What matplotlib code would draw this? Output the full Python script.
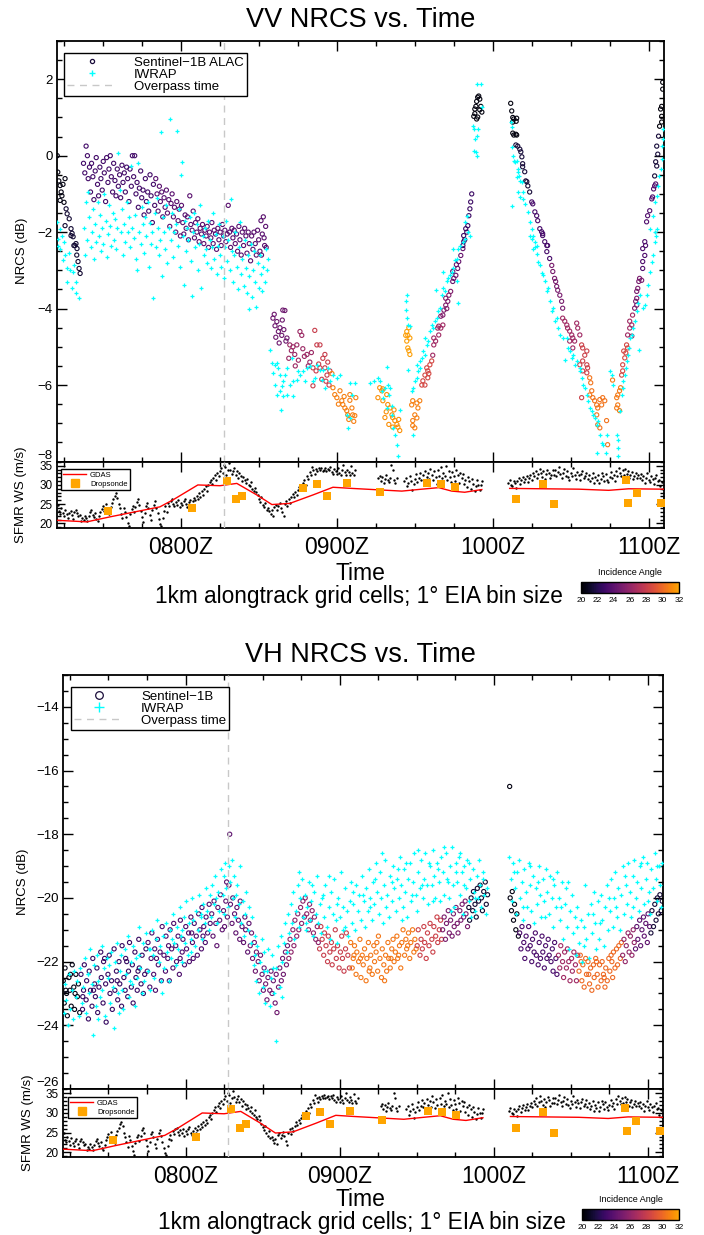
import numpy as np
import matplotlib
matplotlib.use('Agg')
import matplotlib.pyplot as plt
from matplotlib.colors import ListedColormap, Normalize
from matplotlib.lines import Line2D
from matplotlib.ticker import MultipleLocator
from matplotlib.cm import ScalarMappable

plt.rcParams['font.family'] = ['Liberation Sans', 'DejaVu Sans']

#%% Data (time in minutes after 0700Z)

hour_ticks = [60, 120, 180, 240]
hour_labels = ['0800Z', '0900Z', '1000Z', '1100Z']
overpass_t = 76.7

# SFMR surface wind speed (m/s)
sfmr_pts = [
    (12.5, 24.8), (13.0, 23.2), (13.5, 22.5), (14.0, 24.0), (14.5, 22.8), (15.0, 21.9), (15.5, 23.6), (16.0, 22.4),
    (16.5, 21.5), (17.0, 22.8), (17.5, 23.3), (18.0, 22.1), (18.5, 21.2), (19.0, 22.9), (19.5, 23.5), (20.0, 22.6),
    (20.5, 21.8), (21.0, 22.2), (21.5, 20.7), (22.0, 21.4), (22.5, 20.9), (23.0, 22.0), (23.5, 21.3), (24.0, 20.5),
    (24.5, 21.8), (25.0, 22.9), (25.5, 23.4), (26.0, 22.3), (26.5, 21.6), (27.0, 22.7), (27.5, 21.1), (28.0, 20.6),
    (28.5, 21.9), (29.0, 23.0), (29.5, 23.8), (30.0, 24.6), (30.5, 23.2), (31.0, 25.1), (31.5, 24.0), (32.0, 23.5),
    (32.5, 22.4), (33.0, 24.3), (33.5, 25.4), (34.0, 26.3), (34.5, 27.2), (35.0, 27.8), (35.5, 26.6), (36.0, 25.0),
    (36.5, 23.9), (37.0, 22.5), (37.5, 21.3), (38.0, 24.1), (38.5, 23.0), (39.0, 21.6), (39.5, 20.2), (40.0, 19.4),
    (40.5, 22.4), (41.0, 23.8), (41.5, 24.5), (42.0, 22.9), (42.5, 24.2), (43.0, 25.6), (43.5, 26.3), (44.0, 24.8),
    (44.5, 23.1), (45.0, 21.6), (45.5, 20.4), (46.0, 22.7), (46.5, 24.6), (47.0, 25.2), (47.5, 23.9), (48.0, 22.2),
    (48.5, 21.0), (49.0, 23.4), (49.5, 24.8), (50.0, 25.7), (50.5, 24.1), (51.0, 22.6), (51.5, 21.2), (52.0, 19.8),
    (52.5, 19.2), (53.0, 21.5), (53.5, 23.3), (54.0, 24.5), (54.5, 23.0), (55.0, 25.4), (55.5, 24.6), (56.0, 25.8),
    (56.5, 26.3), (57.0, 25.1), (57.5, 24.4), (58.0, 25.6), (58.5, 24.9), (59.0, 26.0), (59.5, 24.2), (60.0, 25.3),
    (60.5, 24.7), (61.0, 25.9), (61.5, 26.4), (62.0, 25.0), (62.5, 24.3), (63.0, 25.5), (63.5, 26.1), (64.0, 24.8),
    (64.5, 25.7), (65.0, 26.6), (65.5, 26.0), (66.0, 27.1), (66.5, 26.4), (67.0, 27.8), (67.5, 26.9), (68.0, 28.3),
    (68.5, 27.5), (69.0, 28.9), (69.5, 29.6), (70.0, 28.4), (70.5, 29.9), (71.0, 30.8), (71.5, 31.4), (72.0, 30.3),
    (72.5, 31.9), (73.0, 32.6), (73.5, 31.2), (74.0, 33.0), (74.5, 32.2), (75.0, 33.6), (75.5, 34.3), (76.0, 33.1),
    (76.5, 35.2), (77.0, 34.6), (77.5, 32.5), (78.0, 33.8), (78.5, 35.7), (79.0, 34.0), (79.5, 32.9), (80.0, 33.5),
    (80.5, 34.4), (81.0, 32.7), (81.5, 33.6), (82.0, 31.8), (82.5, 33.1), (83.0, 32.3), (83.5, 30.9), (84.0, 32.0),
    (84.5, 31.2), (85.0, 30.4), (85.5, 31.5), (86.0, 30.1), (86.5, 29.6), (87.0, 30.7), (87.5, 29.0), (88.0, 28.4),
    (88.5, 29.3), (89.0, 28.1), (89.5, 27.3), (90.0, 26.4), (90.5, 25.6), (91.0, 26.8), (91.5, 24.9), (92.0, 24.2),
    (92.5, 25.3), (93.0, 23.6), (93.5, 24.0), (94.0, 23.1), (94.5, 22.4), (95.0, 23.5), (95.5, 22.0), (96.0, 24.3),
    (96.5, 24.8), (97.0, 23.6), (97.5, 24.4), (98.0, 25.2), (98.5, 24.1), (99.0, 22.9), (99.5, 21.8), (100.0, 25.0),
    (100.5, 25.9), (101.0, 24.6), (101.5, 26.3), (102.0, 25.4), (102.5, 26.8), (103.0, 27.6), (103.5, 26.9), (104.0, 28.2),
    (104.5, 27.4), (105.0, 28.8), (105.5, 29.5), (106.0, 28.6), (106.5, 29.9), (107.0, 30.4), (107.5, 31.2), (108.0, 30.1),
    (108.5, 32.4), (109.0, 31.6), (109.5, 33.3), (110.0, 32.5), (110.5, 34.6), (111.0, 33.8), (111.5, 32.9), (112.0, 34.1),
    (112.5, 33.6), (113.0, 34.3), (113.5, 33.9), (114.0, 34.5), (114.5, 33.7), (115.0, 34.0), (115.5, 34.4), (116.0, 33.5),
    (116.5, 34.2), (117.0, 33.8), (117.5, 34.6), (118.0, 33.4), (118.5, 32.8), (119.0, 34.1), (119.5, 33.6), (120.0, 32.9),
    (120.5, 34.3), (121.0, 33.2), (121.5, 32.6), (122.0, 33.9), (122.5, 35.1), (123.0, 33.4), (123.5, 32.7), (124.0, 34.0),
    (124.5, 33.3), (125.0, 32.5), (125.5, 34.8), (126.0, 33.1), (126.5, 32.6), (127.0, 33.8),
    (136.0, 31.8), (136.5, 32.4), (137.0, 31.1), (137.5, 32.0), (138.0, 30.6), (138.5, 31.5), (139.0, 32.6), (139.5, 31.3),
    (140.0, 30.8), (140.5, 31.9), (141.0, 35.2), (141.5, 33.8), (142.0, 31.2), (142.5, 30.5), (143.0, 31.7),
    (146.0, 30.9), (146.5, 31.8), (147.0, 29.6), (147.5, 30.4), (148.0, 32.3), (148.5, 31.1), (149.0, 28.8), (149.5, 30.2),
    (150.0, 31.6), (150.5, 32.8), (151.0, 30.7), (151.5, 31.9), (152.0, 33.2), (152.5, 31.4), (153.0, 32.5), (153.5, 30.6),
    (154.0, 33.6), (154.5, 32.1), (155.0, 33.0), (155.5, 31.5), (156.0, 34.2), (156.5, 32.7), (157.0, 31.2), (157.5, 33.5),
    (158.0, 32.0), (158.5, 30.3), (159.0, 33.8), (159.5, 32.4), (160.0, 34.7), (160.5, 31.8), (161.0, 33.1), (161.5, 32.2),
    (162.0, 35.0), (162.5, 31.4), (163.0, 33.6), (163.5, 32.0), (164.0, 30.8), (164.5, 33.4), (165.0, 32.3), (165.5, 31.0),
    (166.0, 33.9), (166.5, 32.5), (167.0, 30.6), (167.5, 33.1), (168.0, 31.7), (168.5, 32.8), (169.0, 30.2), (169.5, 31.4),
    (170.0, 29.5), (170.5, 32.0), (171.0, 30.9), (171.5, 29.0), (172.0, 31.6), (172.5, 30.3), (173.0, 28.4), (173.5, 29.7),
    (174.0, 31.2), (174.5, 30.0), (175.0, 28.8), (175.5, 29.9), (176.0, 31.0),
    (186.0, 30.6), (186.5, 31.3), (187.0, 30.1), (187.5, 29.8), (188.0, 31.0), (188.5, 30.4), (189.0, 29.3), (189.5, 30.9),
    (190.0, 31.7), (190.5, 30.2), (191.0, 31.2), (191.5, 32.0), (192.0, 30.7), (192.5, 31.5), (193.0, 32.3), (193.5, 30.8),
    (194.0, 31.9), (194.5, 32.6), (195.0, 31.4), (195.5, 33.1), (196.0, 32.2), (196.5, 33.7), (197.0, 31.8), (197.5, 32.9),
    (198.0, 34.2), (198.5, 33.0), (199.0, 32.1), (199.5, 33.6), (200.0, 31.5), (200.5, 32.8), (201.0, 34.0), (201.5, 33.2),
    (202.0, 31.9), (202.5, 32.5), (203.0, 33.8), (203.5, 32.6), (204.0, 33.9), (204.5, 32.3), (205.0, 33.4), (205.5, 34.6),
    (206.0, 32.8), (206.5, 31.9), (207.0, 33.1), (207.5, 34.1), (208.0, 32.4), (208.5, 33.6), (209.0, 32.0), (209.5, 31.3),
    (210.0, 33.0), (210.5, 32.2), (211.0, 34.3), (211.5, 32.7), (212.0, 31.6), (212.5, 33.3), (213.0, 32.5), (213.5, 31.2),
    (214.0, 32.9), (214.5, 33.5), (215.0, 31.8), (215.5, 32.4), (216.0, 33.2), (216.5, 31.5), (217.0, 32.6), (217.5, 30.9),
    (218.0, 31.8), (218.5, 33.1), (219.0, 30.6), (219.5, 32.0), (220.0, 31.3), (220.5, 32.7), (221.0, 30.4), (221.5, 31.6),
    (222.0, 33.0), (222.5, 32.2), (223.0, 31.0), (223.5, 32.8), (224.0, 31.4), (224.5, 30.7), (225.0, 32.1), (225.5, 33.3),
    (226.0, 31.7), (226.5, 32.5), (227.0, 30.9), (227.5, 33.6), (228.0, 32.4), (228.5, 34.4), (229.0, 33.0), (229.5, 32.2),
    (230.0, 33.8), (230.5, 32.6), (231.0, 34.1), (231.5, 32.9), (232.0, 33.5), (232.5, 31.8), (233.0, 32.7), (233.5, 33.3),
    (234.0, 31.5), (234.5, 32.4), (235.0, 33.1), (235.5, 31.9), (236.0, 32.6), (236.5, 31.7), (237.0, 32.8), (237.5, 31.2),
    (238.0, 32.3), (238.5, 30.6), (239.0, 31.9), (239.5, 33.0), (240.0, 31.4), (240.5, 30.8), (241.0, 32.2), (241.5, 31.5),
    (242.0, 30.3), (242.5, 31.8), (243.0, 32.5), (243.5, 30.9), (244.0, 31.3), (244.5, 29.6), (245.0, 30.7), (245.5, 28.9),
]

# GDAS model wind (two legs)
gdas_t1 = [12.3, 23.8, 32.7, 51.9, 56.9, 66.5, 75.0, 81.5, 89.2, 95.0, 101.9, 110.8, 118.5, 125.8,
           145.0, 152.7, 159.2, 164.2, 169.2, 175.8]
gdas_ws1 = [20.8, 20.4, 21.7, 24.3, 26.1, 30.0, 29.8, 30.4, 27.4, 24.9, 25.2, 27.4, 29.4, 29.1,
            28.4, 28.9, 29.3, 28.4, 28.1, 28.8]
gdas_t2 = [186.5, 213.1, 224.6, 232.3, 245.8]
gdas_ws2 = [29.1, 28.9, 28.6, 29.0, 28.9]

# Dropsonde winds
drop_t = [31.9, 64.2, 77.7, 81.2, 83.5, 106.9, 112.3, 116.2, 123.9, 136.5, 154.6, 160.0, 165.4,
          188.8, 199.2, 203.5, 231.2, 232.0, 235.4, 244.6]
drop_ws = [23.2, 23.9, 31.1, 26.3, 27.1, 29.2, 30.3, 27.1, 30.5, 28.2, 30.5, 30.3, 29.5,
           26.3, 30.3, 25.0, 31.3, 25.3, 27.9, 25.3]

# ---- VV Sentinel-1B NRCS (t, dB), grouped by incidence angle ----
vv_a1 = [(12.4, 0.0), (12.6, -0.43), (13.0, -0.66), (13.5, -0.78), (13.9, -0.95), (13.5, -1.17), (14.2, -1.05),
         (15.0, -1.22), (15.4, -0.6), (14.6, -0.75)]
vv_a2 = [(15.8, -1.39), (16.2, -1.52), (17.0, -1.65), (15.4, -1.83), (17.7, -1.91), (17.7, -2.09), (18.8, -2.35),
         (18.1, -2.03), (18.5, -2.12), (19.6, -2.3), (20.0, -2.43), (19.2, -2.35), (20.4, -2.77), (20.8, -2.95),
         (21.2, -3.08), (19.9, -2.6)]
vv_b1 = [(22.5, -0.2), (23.0, -0.45), (23.5, 0.25), (24.0, 0.0), (24.3, -0.6), (24.8, -0.3), (25.2, -0.95),
         (25.6, -0.2), (26.1, -0.55), (26.5, -1.15), (27.0, -0.4), (27.4, -0.05), (27.9, -0.75), (28.3, -1.05),
         (28.8, -0.3), (29.2, -0.6), (29.7, -0.9), (30.1, -0.15), (30.5, -0.45), (31.0, -1.2), (31.4, -0.05),
         (31.9, -0.7), (32.3, -0.35), (32.8, 0.0), (33.2, -0.55), (33.7, -0.95), (34.1, -0.2), (34.6, -0.65),
         (35.0, -1.05), (35.5, -0.35), (35.9, -0.8), (36.4, -0.5), (36.8, -1.1), (37.3, -0.25), (37.7, -0.7),
         (38.2, -0.45), (38.6, -0.95), (39.1, -0.3), (39.5, -0.6), (40.0, -1.2), (40.4, -0.35), (40.9, -0.8),
         (41.3, 0.0), (41.8, -0.55), (42.2, 0.0), (42.7, -1.0), (43.1, -0.7), (43.6, -1.35), (44.0, -0.85),
         (44.5, -0.4), (44.9, -1.1), (45.4, -0.9), (45.8, -1.55), (46.3, -0.6), (46.7, -1.2), (47.2, -0.95),
         (47.6, -1.45), (48.1, -0.5), (48.5, -1.05), (49.0, -1.75), (49.4, -0.75), (49.9, -1.3)]
vv_b2 = [(50.3, -0.6), (50.8, -1.0), (51.2, -1.45), (51.7, -0.8), (52.1, -1.2), (52.6, -0.95), (53.0, -1.6),
         (53.5, -1.1), (53.9, -1.35), (54.4, -0.9), (54.8, -1.5), (55.3, -1.15), (55.7, -1.85), (56.2, -1.25),
         (56.6, -1.0), (57.1, -1.6), (57.5, -1.35), (58.0, -2.0), (58.4, -1.2), (58.9, -1.7), (59.3, -1.4),
         (59.8, -2.1), (60.2, -1.3), (60.7, -1.75), (61.1, -2.05), (61.6, -1.55), (62.0, -1.9), (62.5, -1.6),
         (62.9, -2.2), (63.4, -1.05), (63.8, -1.8), (64.3, -1.95), (64.7, -1.45), (65.2, -2.15), (65.6, -1.75),
         (66.1, -2.0), (66.5, -1.65), (67.0, -2.25), (67.4, -1.9), (67.9, -2.05), (68.3, -1.8), (68.8, -2.3),
         (69.2, -1.95), (69.7, -2.1), (70.1, -1.85), (70.6, -2.4), (71.0, -2.0), (71.5, -2.15), (71.9, -1.75),
         (72.4, -2.3), (72.8, -1.95), (73.3, -2.05), (73.7, -2.45), (74.2, -1.9), (74.6, -2.2), (75.1, -2.0),
         (75.5, -2.35), (76.0, -1.8), (76.4, -2.1), (76.9, -1.95), (77.3, -2.25), (77.8, -2.05), (78.2, -1.3),
         (78.7, -2.0), (79.1, -2.4), (79.6, -1.9), (80.0, -2.15), (80.5, -1.95), (80.9, -2.3), (81.4, -2.05),
         (81.8, -2.5), (82.3, -1.85), (82.7, -2.2), (83.2, -2.6), (83.6, -2.0), (84.1, -2.35), (84.5, -1.9),
         (85.0, -2.1), (85.4, -2.55), (85.9, -2.0), (86.3, -2.3), (86.8, -2.75), (87.2, -2.1), (87.7, -2.45),
         (88.1, -2.0), (88.6, -2.3), (89.0, -2.6), (89.5, -1.95), (89.9, -2.2), (90.4, -2.5), (90.8, -1.7),
         (91.3, -2.05), (91.7, -1.6), (92.2, -2.35), (92.6, -1.85), (91.0, -2.6), (92.0, -2.15), (92.8, -2.4)]
vv_c1 = [(95.4, -4.25), (96.2, -4.45), (96.9, -4.34), (97.5, -4.6), (98.1, -4.5), (98.8, -4.7), (99.2, -4.04),
         (99.6, -4.55), (100.0, -4.05), (100.4, -4.85), (96.5, -4.75), (97.8, -4.9), (99.0, -4.3), (100.8, -4.77),
         (95.9, -4.15)]
vv_c2 = [(101.9, -4.95), (102.5, -5.1), (103.1, -5.0), (103.8, -5.2), (104.6, -4.95), (105.2, -5.35), (105.8, -4.6),
         (106.5, -4.7), (106.9, -5.05), (107.5, -5.25), (108.5, -5.2), (109.0, -5.5), (109.6, -5.4), (110.2, -5.15),
         (101.5, -5.3), (104.0, -5.5)]
vv_c3 = [(110.8, -5.55), (111.5, -4.57), (112.3, -4.95), (112.0, -5.63), (113.0, -5.45), (113.5, -4.95),
         (113.5, -5.55), (114.6, -5.3), (115.4, -5.2), (115.4, -5.55), (116.2, -5.74), (116.5, -5.4), (117.3, -5.63),
         (110.8, -6.02), (114.2, -5.85), (115.8, -5.9), (117.0, -6.0)]
vv_c4 = [(118.1, -5.7), (118.5, -6.07), (119.2, -6.25), (120.0, -6.33), (121.2, -6.15), (121.9, -6.41),
         (122.3, -6.51), (123.1, -6.6), (123.8, -6.67), (124.2, -6.78), (125.0, -6.25), (125.0, -6.4), (125.8, -6.6),
         (126.1, -6.78), (126.9, -6.8), (127.3, -6.33), (124.6, -6.9), (120.6, -6.5), (122.8, -6.3), (126.5, -6.95)]
vv_d = [(135.8, -6.33), (136.5, -6.07), (137.3, -6.15), (137.7, -6.1), (137.7, -6.41), (138.5, -6.85), (139.2, -6.25),
        (139.6, -6.51), (140.0, -7.03), (140.4, -6.6), (141.2, -6.78), (141.5, -6.85), (141.5, -7.1), (142.3, -6.93),
        (143.1, -7.03), (143.5, -7.1), (144.2, -7.19), (142.0, -6.65), (139.0, -6.7), (143.8, -6.9)]
vv_e = [(146.9, -4.6), (147.3, -4.7), (148.1, -4.77), (146.9, -4.85), (147.3, -5.03), (147.7, -5.1), (148.1, -5.2),
        (146.5, -4.7), (147.7, -4.5)]
vv_f1 = [(148.8, -6.52), (149.2, -6.41), (150.0, -6.78), (149.2, -6.93), (149.2, -7.06), (150.0, -7.12),
         (150.8, -6.86), (151.2, -6.6), (150.8, -6.47), (151.9, -6.41)]
vv_f2 = [(152.7, -6.0), (153.1, -5.89), (153.9, -5.74), (154.6, -5.55), (155.0, -5.63), (155.8, -5.47),
         (156.5, -5.37), (155.0, -5.81), (153.9, -6.0), (155.4, -5.7)]
vv_f3 = [(156.9, -5.22), (157.3, -4.95), (158.0, -4.85), (157.3, -4.77), (158.8, -4.51), (159.2, -4.46),
         (160.0, -4.51), (160.8, -4.43), (159.2, -4.69)]
vv_f4 = [(160.0, -4.2), (160.8, -4.17), (161.2, -4.04), (161.9, -3.91), (162.7, -3.81), (161.9, -3.73),
         (163.1, -3.65), (163.8, -3.55), (162.3, -4.0)]
vv_f5 = [(164.6, -3.29), (165.0, -3.21), (165.8, -3.13), (164.6, -3.03), (166.5, -2.95), (166.9, -2.77),
         (167.7, -2.61), (168.5, -2.43), (168.8, -2.25), (166.0, -2.85)]
vv_f6 = [(168.5, -2.35), (168.8, -2.09), (169.6, -1.91), (170.4, -1.83), (170.8, -1.57), (171.2, -1.39),
         (171.5, -1.21), (171.9, -1.0), (169.2, -2.2), (170.0, -2.0)]
vv_f7 = [(172.7, 1.03), (173.1, 1.22), (173.5, 1.29), (173.8, 1.42), (174.2, 1.53), (174.6, 1.56), (175.0, 1.48),
         (175.4, 1.29), (175.8, 1.14), (174.2, 1.01), (173.8, 0.96), (173.1, 1.1), (175.0, 1.2)]
vv_g1 = [(186.9, 1.37), (187.3, 1.17), (187.7, 1.0), (188.1, 0.96), (189.2, 0.98), (187.7, 0.88), (189.0, 0.9),
         (187.7, 0.59), (188.1, 0.54), (188.9, 0.56), (189.2, 0.54)]
vv_g2 = [(188.9, 0.28), (189.6, 0.25), (190.4, 0.17), (190.8, 0.10), (191.2, -0.03), (191.5, -0.21), (191.5, -0.29),
         (192.3, -0.42), (192.7, -0.66), (193.1, -0.68), (193.5, -0.79), (194.2, -0.95)]
vv_g3 = [(195.0, -1.21), (195.4, -1.26), (196.2, -1.47), (196.9, -1.57), (197.3, -1.7), (198.1, -1.91),
         (198.8, -1.99), (199.2, -2.09), (200.0, -2.25), (199.2, -2.04), (200.8, -2.35), (201.1, -2.35),
         (200.8, -2.51), (201.9, -2.69)]
vv_g4 = [(202.7, -2.87), (203.1, -3.03), (203.8, -3.21), (204.2, -3.29), (204.6, -3.42), (205.0, -3.52),
         (205.8, -3.65), (206.5, -3.81), (206.9, -3.99)]
vv_g5 = [(206.9, -4.25), (207.7, -4.33), (208.5, -4.43), (208.8, -4.51), (209.6, -4.59), (210.4, -4.69),
         (210.8, -4.77), (211.5, -4.85), (212.3, -4.38), (212.7, -4.51), (213.5, -4.69), (209.6, -4.85),
         (210.8, -5.03)]
vv_g6 = [(214.2, -4.95), (214.6, -5.03), (215.4, -5.22), (216.2, -5.11), (214.6, -5.37), (216.2, -5.47),
         (216.5, -5.55), (216.2, -5.68), (214.6, -5.63), (213.5, -5.47), (214.2, -6.33)]
vv_g7 = [(217.3, -5.81), (217.7, -5.94), (218.1, -6.15), (217.3, -6.26), (218.5, -6.33), (219.2, -6.41),
         (220.0, -6.52), (220.4, -6.6), (221.2, -6.38), (221.9, -6.52), (222.3, -6.33), (223.1, -6.41),
         (220.0, -6.78), (220.4, -7.04), (221.2, -7.12), (223.8, -6.93), (224.2, -7.56)]
vv_h1 = [(226.1, -5.87), (227.7, -6.33), (228.1, -6.26), (228.8, -6.15), (228.1, -6.52), (227.7, -6.6),
         (228.8, -6.67), (229.2, -6.07)]
vv_h2 = [(229.6, -5.74), (230.0, -5.63), (230.0, -5.47), (230.8, -5.29), (230.4, -5.11), (231.2, -5.16),
         (231.5, -4.95), (231.9, -5.03)]
vv_h3 = [(231.9, -4.69), (232.7, -4.51), (233.5, -4.72), (232.7, -4.33), (233.5, -4.43), (233.8, -4.17)]
vv_h4 = [(234.6, -3.99), (235.0, -3.81), (235.4, -3.73), (235.4, -3.55), (235.8, -3.47), (236.2, -3.29),
         (236.5, -3.21), (237.3, -3.26), (235.4, -3.91)]
vv_h5 = [(237.7, -2.95), (237.7, -2.77), (238.5, -2.61), (237.7, -2.43), (238.8, -2.35), (238.5, -2.25),
         (239.2, -1.73), (239.6, -1.57), (240.4, -1.44), (241.2, -1.13), (241.5, -1.08), (242.3, -0.79),
         (241.9, -0.87), (242.7, -0.74)]
vv_h6 = [(242.3, -0.53), (243.1, -0.27), (242.7, -0.16), (243.5, 0.04), (243.1, 0.25), (243.8, 0.51)]
vv_h7 = [(244.2, 0.77), (245.0, 1.03), (244.6, 1.22), (245.0, 1.29), (245.4, 1.74), (245.4, 1.92), (245.0, 0.88)]

vv_sar_groups = [(20.5, vv_a1), (21.4, vv_a2), (23.0, vv_b1), (23.8, vv_b2), (24.6, vv_c1), (26.3, vv_c2),
                 (28.0, vv_c3), (30.8, vv_c4), (31.3, vv_d), (31.8, vv_e), (30.8, vv_f1), (28.5, vv_f2),
                 (26.5, vv_f3), (25.3, vv_f4), (24.3, vv_f5), (22.8, vv_f6), (20.4, vv_f7), (20.4, vv_g1),
                 (21.5, vv_g2), (23.2, vv_g3), (25.0, vv_g4), (26.5, vv_g5), (28.2, vv_g6), (30.4, vv_g7),
                 (30.6, vv_h1), (28.5, vv_h2), (26.5, vv_h3), (25.0, vv_h4), (23.5, vv_h5), (21.5, vv_h6),
                 (20.3, vv_h7)]

# ---- VV IWRAP NRCS (t, dB) ----
vv_iwrap = [
    (12.4, -1.73), (13.5, -1.91), (12.6, -2.17), (14.2, -2.09), (12.8, -2.35), (13.6, -2.45), (15.4, -2.61),
    (14.7, -2.74), (16.2, -2.95), (17.3, -3.0), (18.5, -3.03), (16.0, -3.3), (18.1, -3.47), (19.6, -3.3),
    (19.6, -3.6), (20.8, -3.73), (15.0, -2.25), (17.0, -2.55), (19.0, -2.85),
    (22.5, -1.9), (23.0, -2.6), (23.4, -1.2), (23.9, -2.2), (24.3, -0.95), (24.8, -1.6), (25.2, -2.4), (25.6, -2.0),
    (26.1, -1.4), (26.5, -2.7), (27.0, -1.8), (27.4, -2.25), (27.9, -1.21), (28.3, -2.1), (28.8, -1.55), (29.2, -2.5),
    (29.7, -1.9), (30.1, -2.3), (30.5, -1.0), (31.0, -1.7), (31.4, -2.64), (31.9, -2.05), (32.3, -1.3), (32.8, -1.85),
    (33.2, -2.35), (33.7, -1.5), (34.1, -2.2), (34.6, -1.65), (35.0, -2.45), (35.5, -1.9), (35.8, 0.07), (36.4, -0.9),
    (36.8, -2.0), (37.3, -1.4), (37.7, -2.6), (38.2, -1.8), (38.6, -2.25), (39.1, -1.2), (39.5, -2.0), (40.0, -1.6),
    (40.4, -2.4), (40.9, -0.27), (41.3, -1.9), (41.8, -2.15), (42.2, -1.55), (42.7, -2.7), (43.1, -3.0), (43.6, -0.2),
    (44.0, -2.0), (44.5, -2.3), (44.9, -1.35), (45.4, -1.8), (45.8, -2.55), (46.3, -1.6), (46.7, -2.1), (47.2, -1.2),
    (47.6, -2.9), (48.1, -1.75), (48.5, -2.3), (49.0, -2.0), (49.4, -3.73), (49.9, -1.5), (50.3, -2.4), (50.8, -1.1),
    (51.2, -1.9), (51.7, -2.6), (52.1, -2.2), (52.3, 0.62), (52.8, -3.16), (53.1, -1.6), (53.5, -2.0), (53.9, -2.45),
    (54.4, -1.3), (54.8, -2.8), (55.3, -1.9), (55.8, 0.95), (56.2, -2.2), (56.6, -1.5), (57.1, -2.65), (57.5, -2.0),
    (58.0, -1.8), (58.5, 0.64), (58.9, -2.35), (59.3, -1.4), (59.8, -2.9), (60.2, -0.5), (60.4, -0.17), (60.7, -2.1),
    (61.1, -3.39), (61.6, -1.7), (62.0, -2.5), (62.5, -1.9), (62.9, -2.2), (63.4, -1.6), (63.8, -2.75), (64.3, -3.68),
    (64.7, -2.0), (65.2, -1.5), (65.6, -2.4), (66.1, -1.8), (66.5, -3.0), (67.0, -2.3), (67.4, -1.3), (67.9, -3.47),
    (68.3, -2.1), (68.8, -2.6), (69.2, -1.9), (69.7, -2.45), (70.1, -2.8), (70.6, -1.7), (71.0, -2.2), (71.5, -2.95),
    (71.9, -2.4), (72.4, -1.5), (72.8, -2.7), (73.3, -2.05), (73.7, -3.1), (74.2, -2.35), (74.6, -1.8), (75.1, -2.6),
    (75.5, -2.9), (76.0, -2.1), (76.4, -3.2), (76.9, -2.4), (77.3, -1.7), (77.8, -2.75), (78.2, -2.2), (78.7, -3.0),
    (79.1, -1.13), (79.6, -2.5), (80.0, -3.3), (80.5, -2.6), (80.9, -2.0), (81.4, -2.9), (81.8, -3.5), (82.3, -2.4),
    (82.7, -1.73), (83.2, -3.1), (83.6, -2.7), (84.1, -3.4), (84.5, -2.2), (85.0, -2.95), (85.4, -3.6), (85.9, -2.6),
    (86.3, -3.15), (86.8, -2.3), (87.2, -3.7), (87.7, -3.0), (88.1, -2.5), (88.6, -3.3), (89.0, -3.97), (89.5, -2.8),
    (89.9, -3.45), (90.4, -2.6), (90.8, -3.1), (91.3, -3.55), (91.7, -2.9), (92.2, -3.3), (92.6, -2.45), (93.1, -3.0),
    (93.5, -2.7), (86.0, -4.0),
    (94.2, -5.08), (95.0, -5.42), (96.2, -5.47), (95.4, -5.68), (96.9, -5.42), (97.3, -5.55), (98.1, -5.74),
    (96.2, -6.0), (96.9, -6.26), (98.1, -6.15), (98.8, -6.02), (99.2, -5.89), (100.0, -5.74), (100.8, -5.55),
    (98.5, -6.65), (100.8, -6.26), (101.9, -6.0), (103.1, -5.89), (104.6, -5.87), (105.8, -5.74), (106.9, -5.63),
    (108.5, -5.55), (109.6, -5.5), (112.3, -5.47), (113.5, -5.61), (114.6, -5.61), (116.5, -5.55), (118.5, -5.74),
    (120.0, -5.81), (121.2, -5.74), (103.1, -6.28), (99.2, -6.28), (107.7, -5.89), (110.8, -5.89), (114.2, -5.87),
    (117.3, -5.89), (123.8, -6.78), (124.2, -7.12), (125.0, -6.86), (125.0, -5.94), (126.9, -5.94), (125.8, -6.26),
    (102.7, -5.29), (105.0, -5.63), (111.5, -5.81), (115.4, -6.07),
    (136.5, -5.89), (137.3, -6.15), (137.7, -6.33), (138.5, -6.07), (139.2, -5.53), (139.6, -6.0), (140.4, -6.07),
    (140.0, -6.26), (141.2, -6.54), (141.2, -6.78), (141.5, -7.12), (142.3, -7.3), (144.2, -6.65), (139.2, -6.6),
    (143.1, -7.56), (143.5, -7.85), (135.8, -5.81), (132.7, -5.94), (134.2, -5.89),
    (146.5, -4.04), (146.9, -3.65), (146.9, -4.25), (147.3, -4.43), (148.1, -4.46), (147.3, -5.61), (146.5, -3.81),
    (148.8, -6.15), (149.2, -6.07), (150.0, -5.89), (150.8, -5.81), (149.2, -7.3), (151.2, -5.63), (151.9, -5.55),
    (150.8, -5.47), (151.9, -5.37), (152.7, -5.29), (153.1, -5.11), (153.9, -5.22), (154.6, -4.95), (155.0, -4.85),
    (153.9, -4.77), (155.8, -4.59), (156.9, -4.51), (156.5, -4.43), (157.7, -4.33), (158.5, -4.25), (158.8, -4.07),
    (159.6, -3.99), (160.4, -3.65), (160.8, -3.47), (161.5, -3.55), (162.3, -3.29), (162.7, -3.21), (163.5, -3.13),
    (164.2, -3.03), (164.6, -2.95), (165.4, -2.74), (166.2, -2.69), (166.5, -2.43), (167.3, -2.35), (168.5, -2.25),
    (169.2, -2.17), (170.4, -1.99), (171.2, -2.09), (160.8, -3.03), (158.1, -3.52), (164.6, -2.43), (166.2, -3.29),
    (166.5, -3.86), (169.2, -1.73), (170.0, -1.57), (172.3, 0.77), (172.7, 0.70), (173.1, 0.44), (173.8, 0.51),
    (174.2, 0.70), (172.7, 0.12), (173.5, 0.10), (173.8, -0.01), (173.8, 1.87), (175.4, 1.87), (175.8, 1.27),
    (186.9, 0.88), (187.3, 0.75), (187.3, 0.23), (187.7, -0.01), (188.1, -0.14), (188.5, -0.16), (189.2, -0.14),
    (189.6, -0.35), (189.6, -0.42), (190.0, -0.53), (190.4, -0.66), (191.2, -0.68), (189.2, -0.55), (187.3, -1.31),
    (189.6, -0.95), (190.4, -1.08), (191.5, -0.95), (191.5, -1.13), (192.3, -1.26), (193.5, -1.47), (194.2, -1.73),
    (195.0, -1.91), (194.2, -2.09), (195.4, -2.09), (196.2, -2.25), (196.9, -2.35), (195.0, -2.17), (195.4, -2.43),
    (196.2, -2.38), (196.9, -2.56), (197.3, -2.77), (198.1, -2.87), (198.8, -3.08), (199.2, -3.13), (200.0, -3.29),
    (200.8, -3.55), (201.1, -3.47), (201.9, -3.81), (202.7, -4.07), (203.1, -3.99), (203.8, -4.33), (204.6, -4.25),
    (205.0, -4.51), (205.8, -4.69), (206.9, -4.77), (208.5, -4.77), (208.8, -5.03), (209.6, -5.11), (210.4, -5.29),
    (207.7, -5.35), (210.8, -5.22), (211.5, -5.47), (212.3, -5.37), (213.5, -5.55), (213.5, -5.63), (214.2, -5.81),
    (214.6, -6.0), (215.4, -6.07), (216.1, -6.26), (216.5, -6.41), (217.3, -6.6), (218.1, -6.67), (218.5, -6.78),
    (219.2, -6.86), (220.0, -7.04), (220.4, -6.93), (221.2, -7.3), (221.9, -7.51), (222.3, -7.56), (223.8, -7.3),
    (225.0, -5.63), (225.8, -5.74), (226.2, -6.0), (227.7, -7.3), (228.1, -7.45), (228.1, -7.64), (228.1, -7.85),
    (223.5, -7.77), (220.0, -7.77),
    (228.8, -6.67), (229.6, -6.26), (230.0, -6.07), (230.0, -5.89), (230.8, -5.74), (231.2, -5.55), (231.5, -5.37),
    (231.9, -5.22), (232.3, -5.03), (232.7, -4.77), (233.5, -4.69), (233.8, -4.51), (234.6, -4.33), (235.4, -4.07),
    (235.8, -3.86), (236.5, -3.65), (236.2, -5.08), (237.7, -3.99), (238.5, -3.91), (239.2, -3.65), (239.6, -3.39),
    (240.4, -3.03), (241.1, -2.77), (241.5, -2.61), (242.3, -2.25), (242.7, -2.09), (243.1, -1.91), (242.3, -1.99),
    (240.4, -1.91), (241.5, -1.57), (242.3, -1.21), (243.1, -1.05), (243.5, -0.79), (243.8, -0.53), (244.6, -0.35),
    (245.0, -0.09), (245.4, 0.44), (245.4, 0.70), (245.0, 0.25),
]

# ---- VH Sentinel-1B NRCS (t, dB), grouped by incidence angle ----
vh_a = [(12.4, -22.6), (12.8, -23.3), (13.1, -22.2), (13.7, -23.0), (14.0, -23.7), (14.6, -22.5), (15.0, -22.9),
        (15.5, -23.4), (15.9, -22.1), (16.5, -22.8), (16.8, -23.5), (17.3, -22.4), (17.9, -23.1), (18.3, -22.7),
        (18.8, -23.6), (13.4, -22.9), (15.2, -22.4), (17.0, -23.0)]
vh_b1 = [(19.3, -22.4), (19.9, -23.5), (20.3, -22.9), (20.6, -22.1), (21.3, -23.2), (21.5, -22.6), (22.2, -23.8),
         (22.5, -22.3), (23.0, -22.9), (23.6, -23.4), (23.9, -21.9), (24.6, -22.7), (24.9, -23.1), (25.5, -22.2),
         (25.8, -23.6), (26.3, -22.8), (27.0, -21.7), (27.2, -22.5), (27.9, -23.3), (28.1, -22.0), (28.9, -22.7),
         (29.1, -23.9), (29.8, -22.4), (30.3, -21.8), (30.6, -23.0), (31.2, -22.6), (31.5, -23.5), (32.2, -21.6),
         (32.5, -22.9), (33.1, -22.3), (33.6, -23.2), (34.1, -22.0), (34.4, -22.7), (35.1, -23.4), (35.3, -21.5),
         (36.0, -22.5), (36.5, -22.9), (36.7, -21.9), (37.5, -23.1), (37.8, -22.3), (38.2, -21.4), (38.9, -22.8),
         (39.3, -22.1), (39.6, -23.3), (40.3, -21.7), (40.7, -22.5), (41.2, -22.9), (41.8, -21.3), (42.0, -22.2),
         (42.7, -22.7), (43.1, -21.8), (43.6, -23.0), (44.1, -22.4), (44.6, -21.6),
         (20.0, -23.1), (24.2, -22.9), (28.5, -21.9), (33.4, -22.6), (37.1, -22.0), (41.5, -22.3)]
vh_b2 = [(45.1, -22.3), (45.4, -21.4), (46.1, -22.8), (46.6, -21.9), (46.9, -21.1), (47.6, -22.4), (48.0, -21.6),
         (48.3, -22.9), (49.1, -21.3), (49.4, -22.1), (50.1, -21.7), (50.6, -22.6), (50.9, -20.9), (51.6, -21.8),
         (52.2, -22.3), (52.4, -21.2), (53.1, -21.9), (53.7, -22.6), (54.0, -21.0), (54.6, -21.6), (55.1, -22.2),
         (55.4, -20.8), (56.2, -21.5), (56.5, -22.0), (57.1, -21.2), (57.6, -22.4), (58.0, -20.7), (58.7, -21.7),
         (59.0, -21.3), (59.6, -22.1), (60.1, -20.9), (60.4, -21.6), (61.2, -21.1), (61.5, -22.0), (62.1, -20.6),
         (62.7, -21.4), (63.0, -21.9), (63.4, -20.8), (64.2, -21.2), (64.6, -21.8), (65.1, -20.5), (65.6, -21.0),
         (66.2, -21.6), (66.4, -20.3), (67.1, -20.9), (67.7, -21.4), (68.0, -20.6), (68.6, -21.1), (69.2, -20.2),
         (69.6, -20.8), (48.7, -21.9), (53.4, -21.5), (57.9, -21.9), (62.4, -21.1), (66.8, -21.2)]
vh_b3 = [(70.2, -20.5), (70.7, -21.2), (71.1, -20.1), (71.8, -20.8), (72.2, -21.5), (72.6, -20.3), (73.3, -20.7),
         (73.6, -19.9), (74.3, -21.0), (74.8, -20.4), (75.2, -20.9), (75.7, -20.1), (76.0, -19.5), (76.3, -20.6),
         (76.9, -19.6), (77.2, -18.0), (77.5, -20.2), (78.1, -20.8), (78.4, -20.0), (79.1, -20.5), (79.6, -21.1),
         (80.0, -20.3), (80.6, -20.7), (81.1, -21.3), (81.3, -20.1), (82.0, -20.9), (82.6, -21.4), (83.1, -20.6),
         (83.4, -21.0), (84.2, -21.7), (84.7, -20.8)]
vh_b4 = [(85.2, -21.5), (85.7, -21.1), (86.1, -21.9), (86.8, -21.4), (87.2, -22.3), (87.6, -21.7), (88.3, -22.0),
         (88.7, -22.6), (89.2, -21.8), (89.8, -22.4), (90.3, -22.9), (90.6, -22.2), (91.2, -22.7), (91.7, -23.2),
         (92.1, -22.5), (92.8, -22.9), (93.3, -22.3), (93.7, -23.0), (94.2, -22.6), (94.9, -23.3), (95.3, -22.4),
         (95.6, -23.6), (96.2, -22.8), (96.7, -22.2), (97.3, -22.6), (97.8, -21.9), (98.1, -22.4), (98.9, -21.7),
         (99.3, -22.1), (99.7, -21.5)]
vh_c1 = [(100.2, -21.9), (100.7, -21.3), (101.1, -21.7), (101.8, -21.0), (102.2, -21.5), (102.6, -20.7),
         (103.3, -21.2), (103.7, -20.5), (104.1, -21.0), (104.8, -20.3), (105.2, -20.8), (105.7, -20.1),
         (106.3, -20.6), (106.6, -20.0), (107.2, -20.5), (107.9, -21.0), (108.3, -20.2), (108.6, -20.7),
         (109.3, -20.4), (109.8, -21.1), (110.2, -20.6), (110.7, -21.3), (111.3, -20.9), (111.7, -21.4)]
vh_c2 = [(112.2, -21.6), (112.7, -20.9), (113.2, -21.3), (113.8, -21.8), (114.1, -21.1), (114.7, -21.5),
         (115.3, -22.0), (115.6, -21.2), (116.2, -21.7), (116.8, -21.4), (117.1, -22.1), (117.7, -21.6),
         (118.3, -21.0), (118.7, -21.9), (119.2, -21.5), (119.8, -22.2), (120.3, -21.7), (120.8, -21.2),
         (121.1, -21.9), (121.7, -22.3), (122.3, -21.6), (122.6, -21.1), (123.2, -21.8), (123.8, -22.2)]
vh_d = [(124.3, -21.4), (124.9, -22.2), (125.3, -21.9), (125.8, -21.5), (126.4, -22.4), (126.7, -21.7),
        (127.4, -22.0), (127.9, -21.3), (128.3, -22.5), (128.8, -21.8), (129.2, -22.1), (129.7, -21.6),
        (130.3, -22.6), (130.6, -21.9), (131.2, -21.4), (131.8, -22.2), (132.1, -21.8), (132.7, -22.4),
        (133.3, -21.5), (133.6, -22.0), (134.2, -21.7), (134.8, -22.3), (135.1, -21.2), (135.7, -21.9),
        (136.3, -22.5), (136.6, -21.6), (137.2, -22.1), (137.9, -21.8), (138.3, -22.3), (138.8, -21.4),
        (139.1, -21.9), (139.7, -22.2), (140.3, -21.6), (140.8, -21.3), (141.2, -22.0), (141.7, -21.7),
        (142.3, -21.2), (142.6, -21.9), (143.3, -21.5), (143.8, -22.2), (144.2, -21.4), (144.7, -21.0),
        (145.3, -21.8), (145.8, -21.3), (146.1, -21.6), (146.8, -21.1), (147.3, -21.9), (147.7, -21.4),
        (148.4, -21.0), (148.9, -21.7), (149.3, -21.3), (149.8, -21.6),
        (125.6, -21.8), (128.1, -21.9), (131.5, -22.3), (134.5, -21.4), (137.5, -22.6), (140.0, -21.9),
        (143.0, -21.8), (146.5, -21.5)]
vh_f1 = [(150.2, -21.5), (150.6, -21.0), (151.3, -21.8), (151.7, -21.3), (152.2, -21.6), (152.8, -20.9),
         (153.1, -21.4), (153.7, -21.9), (154.2, -21.1), (154.8, -21.5), (155.2, -20.8), (155.9, -21.3),
         (156.3, -21.7), (156.7, -20.9), (157.4, -21.2), (157.9, -20.6), (158.2, -21.4), (158.8, -21.0),
         (159.3, -20.7), (159.7, -21.3)]
vh_f2 = [(160.1, -21.0), (160.7, -20.6), (161.2, -21.3), (161.6, -20.8), (162.3, -20.4), (162.7, -21.1),
         (163.2, -20.7), (163.8, -21.2), (164.3, -20.5), (164.6, -20.9), (165.3, -20.3), (165.8, -20.8),
         (166.1, -21.1), (166.8, -20.4), (167.2, -20.7), (167.7, -20.2), (168.3, -20.6), (168.9, -20.1),
         (169.2, -20.5), (169.8, -20.9)]
vh_f3 = [(170.3, -20.3), (170.6, -20.7), (171.2, -20.0), (171.8, -20.4), (172.1, -19.8), (172.7, -20.2),
         (173.2, -20.6), (173.6, -19.7), (174.1, -20.1), (174.7, -19.6), (175.2, -20.0), (175.6, -20.4),
         (176.1, -19.8), (176.7, -19.5), (177.1, -20.2), (177.6, -19.9)]
vh_g1 = [(186.2, -16.5), (186.4, -20.0), (186.9, -20.4), (187.2, -19.8), (187.7, -20.7), (188.1, -20.2),
         (188.6, -21.0), (189.0, -20.5), (189.6, -21.2)]
vh_g2 = [(190.1, -21.1), (190.6, -21.6), (191.0, -20.9), (191.7, -21.4), (192.1, -21.9), (192.6, -21.2),
         (193.3, -21.6), (193.6, -20.9), (194.2, -21.5), (194.8, -22.0), (195.1, -21.3), (195.7, -21.7),
         (196.2, -21.1), (196.6, -21.8), (197.3, -22.1), (197.7, -21.4), (198.2, -21.9), (198.8, -21.2),
         (199.1, -21.7), (199.7, -22.2), (200.2, -21.5), (200.7, -21.9), (201.2, -21.3), (201.6, -21.8),
         (202.3, -22.0), (202.8, -21.6), (203.1, -22.3), (203.7, -21.4), (204.2, -21.9), (204.6, -22.4)]
vh_g3 = [(205.2, -21.8), (205.7, -22.2), (206.1, -21.5), (206.8, -22.0), (207.2, -22.5), (207.6, -21.7),
         (208.3, -22.2), (208.7, -21.6), (209.2, -22.0), (209.7, -22.6), (210.3, -21.9), (210.6, -22.3),
         (211.2, -21.7), (211.8, -22.1), (212.2, -22.6), (212.7, -21.8)]
vh_g4 = [(213.2, -22.3), (213.7, -21.8), (214.3, -22.6), (214.7, -22.1), (215.2, -22.8), (215.8, -21.9),
         (216.1, -22.4), (216.7, -22.0), (217.3, -22.7), (217.7, -22.2), (218.2, -22.9), (218.8, -22.1),
         (219.1, -22.5), (219.7, -21.9), (220.3, -22.4), (220.6, -22.8), (221.2, -22.1), (221.8, -22.6),
         (222.2, -22.0), (222.7, -22.4), (223.3, -22.8), (223.6, -22.2), (224.2, -22.6), (224.8, -21.9),
         (225.2, -22.3), (225.7, -21.8), (226.3, -22.5), (226.6, -21.7), (227.2, -22.2), (227.8, -21.6),
         (228.2, -22.1), (228.7, -21.5), (229.3, -21.9), (229.7, -21.4),
         (214.0, -22.0), (217.0, -22.4), (220.0, -22.0), (223.0, -22.5), (226.0, -22.0)]
vh_h1 = [(230.2, -21.8), (230.7, -21.3), (231.2, -22.0), (231.6, -21.5), (232.3, -21.1), (232.7, -21.7),
         (233.2, -21.2), (233.8, -21.8), (234.3, -21.0), (234.7, -21.4)]
vh_h2 = [(235.2, -21.6), (235.7, -20.9), (236.1, -21.3), (236.8, -20.7), (237.2, -21.5), (237.7, -21.0),
         (238.3, -20.6), (238.6, -21.2), (239.2, -20.8), (239.8, -21.4), (240.1, -20.5), (240.7, -20.9)]
vh_h3 = [(241.2, -21.1), (241.6, -20.4), (242.2, -20.9), (242.7, -20.2), (243.2, -20.7), (243.7, -20.0),
         (244.1, -20.5), (244.7, -19.9), (245.2, -20.4), (245.6, -20.1)]

vh_sar_groups = [(20.6, vh_a), (22.6, vh_b1), (23.4, vh_b2), (24.0, vh_b3), (24.6, vh_b4), (25.8, vh_c1),
                 (28.0, vh_c2), (30.5, vh_d), (28.2, vh_f1), (25.0, vh_f2), (21.3, vh_f3), (20.5, vh_g1),
                 (23.3, vh_g2), (26.5, vh_g3), (30.0, vh_g4), (26.0, vh_h1), (24.0, vh_h2), (21.5, vh_h3)]

# ---- VH IWRAP NRCS (t, dB) ----
vh_iwrap = [
    (12.5, -23.6), (12.9, -22.7), (13.6, -23.2), (14.1, -24.0), (14.5, -22.4), (15.2, -23.5), (15.7, -22.9),
    (16.3, -23.8), (16.6, -22.3), (17.3, -23.1), (17.8, -22.6), (18.4, -23.7), (18.9, -22.2), (19.6, -23.3),
    (20.1, -22.8), (20.8, -21.9), (21.2, -23.6), (21.9, -22.4), (22.4, -23.0), (22.8, -21.6), (23.5, -22.7),
    (24.1, -24.3), (24.4, -22.1), (25.0, -23.4), (25.7, -21.8), (26.1, -22.6), (26.8, -23.1), (27.3, -21.5),
    (27.6, -22.9), (28.4, -22.2), (28.7, -23.7), (29.4, -21.9), (29.9, -22.5), (30.5, -23.3), (31.0, -21.7),
    (31.6, -22.8), (32.0, -24.1), (32.7, -22.0), (33.2, -21.4), (33.8, -23.0), (34.3, -22.3), (34.7, -21.8),
    (35.4, -22.9), (35.8, -23.5), (36.5, -21.6), (36.9, -22.4), (37.6, -21.2), (38.0, -23.1), (38.6, -22.0),
    (39.2, -22.7), (39.5, -21.5), (40.2, -23.4), (40.8, -21.9), (41.3, -22.5), (41.7, -20.9), (42.4, -22.2),
    (42.9, -23.0), (43.4, -21.4), (44.0, -22.6), (44.5, -21.1),
    (45.2, -22.3), (45.7, -21.6), (46.3, -22.9), (46.8, -21.0), (47.3, -21.8), (47.9, -22.5), (48.4, -21.3),
    (48.8, -20.7), (49.5, -22.0), (50.0, -21.5), (50.7, -23.0), (51.1, -21.2), (51.8, -22.2), (52.3, -20.8),
    (52.7, -21.7), (53.4, -22.6), (53.9, -21.0), (54.3, -21.9), (55.0, -20.5), (55.5, -21.4), (56.1, -22.1),
    (56.7, -20.9), (57.0, -21.6), (57.8, -20.3), (58.2, -21.2), (58.8, -22.0), (59.3, -20.6), (59.9, -21.4),
    (60.3, -20.1), (60.9, -21.8), (61.4, -20.8), (62.0, -21.3), (62.6, -20.0), (63.1, -20.7), (63.7, -21.5),
    (64.1, -20.4), (64.8, -21.0), (65.2, -19.9), (65.9, -20.6), (66.3, -21.3), (66.9, -20.2), (67.4, -20.8),
    (67.8, -19.7), (68.5, -20.4), (69.1, -21.0), (69.4, -19.9),
    (70.0, -20.6), (70.5, -19.6), (71.2, -20.2), (71.6, -19.3), (72.3, -20.8), (72.8, -19.8), (73.2, -20.4),
    (73.9, -19.1), (74.4, -19.9), (74.9, -20.5), (75.3, -18.9), (75.8, -19.7), (76.5, -20.3), (76.8, -19.0),
    (77.4, -19.5), (78.0, -18.8), (78.5, -20.0), (79.0, -19.3), (79.4, -20.6), (80.1, -19.6), (80.7, -20.2),
    (81.2, -19.0), (81.6, -20.8), (82.3, -20.1), (82.8, -21.2), (83.3, -20.5), (83.7, -19.8), (84.3, -21.0),
    (84.8, -20.3),
    (85.4, -21.4), (85.9, -20.6), (86.5, -22.1), (86.9, -21.2), (87.5, -22.6), (88.0, -21.5), (88.5, -23.0),
    (89.0, -22.0), (89.6, -21.3), (90.1, -22.8), (90.7, -21.7), (91.1, -23.3), (91.8, -22.3), (92.2, -21.6),
    (92.9, -23.4), (93.4, -22.5), (93.8, -21.8), (94.5, -23.0), (95.1, -24.5), (95.4, -22.2), (96.0, -21.5),
    (96.6, -22.8), (97.1, -21.2), (97.6, -22.0), (98.2, -21.4), (98.7, -20.8), (99.4, -21.7), (99.9, -20.5),
    (100.4, -21.1), (100.9, -20.2), (101.5, -20.8), (102.0, -19.8), (102.4, -21.3), (103.1, -20.4), (103.6, -19.6),
    (104.3, -20.9), (104.6, -20.0), (105.3, -19.4), (105.9, -20.6), (106.4, -19.9), (106.9, -21.0), (107.4, -20.3),
    (108.0, -19.5), (108.5, -20.7), (109.0, -20.1), (109.6, -21.2), (110.1, -19.8), (110.8, -20.5), (111.1, -19.3),
    (111.6, -20.8), (112.4, -20.2), (112.8, -21.1), (113.5, -19.9), (114.0, -20.6), (114.4, -19.6), (115.1, -20.9),
    (115.7, -20.3), (116.3, -21.3), (116.6, -19.8), (117.3, -20.5), (117.9, -19.4), (118.4, -20.7), (118.9, -21.4),
    (119.4, -20.0), (120.0, -20.6), (120.6, -19.2), (121.2, -20.3), (121.5, -21.0), (122.2, -19.7), (122.7, -20.4),
    (123.3, -21.2), (123.9, -20.1), (124.3, -19.5), (124.8, -20.8), (125.4, -20.2), (125.9, -21.0), (126.5, -19.6),
    (127.1, -20.4), (127.6, -19.9),
    (128.2, -20.7), (128.7, -19.3), (129.3, -20.1), (129.8, -20.9), (130.4, -19.7), (130.9, -20.4), (131.3, -19.1),
    (132.0, -20.0), (132.6, -20.7), (133.1, -19.5), (133.5, -20.2), (134.2, -18.9), (134.7, -19.8), (135.3, -20.5),
    (135.8, -19.2), (136.2, -20.0), (136.9, -20.8), (137.4, -19.6), (137.8, -18.8), (138.6, -19.9), (139.1, -20.6),
    (139.5, -19.3), (140.2, -20.1), (140.7, -19.0), (141.3, -19.7), (141.9, -20.4), (142.3, -19.4), (143.0, -20.0),
    (143.6, -18.7), (144.0, -19.6), (144.7, -20.3), (145.2, -19.1), (145.6, -19.8), (146.3, -20.6), (146.8, -19.4),
    (147.4, -18.9), (147.9, -20.1), (148.5, -19.5), (149.0, -18.6), (149.6, -19.9), (150.1, -20.4), (150.7, -19.2),
    (151.3, -19.7), (151.7, -18.8), (152.4, -20.0), (152.9, -19.4), (153.4, -18.6), (154.1, -19.6), (154.5, -20.2),
    (155.2, -19.0), (155.8, -19.6), (156.2, -18.5), (156.9, -19.3), (157.3, -20.0), (158.0, -18.9), (158.6, -19.5),
    (159.1, -20.1), (159.6, -18.7), (160.3, -19.2), (160.8, -19.9), (161.4, -18.6), (161.9, -19.4), (162.5, -20.0),
    (163.0, -19.0), (163.6, -18.4), (164.1, -19.6), (164.7, -20.3), (165.2, -18.9), (165.7, -19.5), (166.4, -18.7),
    (166.9, -19.9), (167.5, -19.2), (168.0, -20.5), (168.6, -19.0), (169.1, -19.7), (169.7, -18.8), (170.2, -20.1),
    (170.8, -19.4), (171.3, -20.6), (171.9, -19.1), (172.4, -19.8), (172.9, -20.4), (173.4, -19.3), (174.0, -20.0),
    (174.6, -19.6), (175.1, -20.3), (175.7, -19.2), (176.2, -19.9), (176.8, -20.5), (177.3, -19.7),
    (186.1, -18.7), (186.7, -19.4), (187.1, -20.1), (187.6, -18.9), (188.3, -19.7), (188.8, -20.5), (189.2, -19.2),
    (189.9, -18.8), (190.4, -20.0), (190.9, -19.5), (191.5, -20.7), (191.8, -19.1), (192.5, -19.8), (193.0, -20.3),
    (193.6, -18.9), (194.2, -19.6), (194.7, -20.4), (195.3, -19.3), (195.8, -20.8), (196.4, -19.7), (196.9, -20.2),
    (197.5, -19.0), (198.1, -19.9), (198.5, -20.6), (199.1, -19.4), (199.6, -20.1), (200.3, -19.1), (200.8, -19.8),
    (201.4, -20.5), (201.9, -19.3), (202.6, -20.0), (203.1, -20.9), (203.5, -19.6), (204.2, -20.3), (204.8, -19.2),
    (205.4, -20.0), (205.9, -20.7), (206.5, -19.5), (207.0, -21.3), (207.6, -20.2), (208.1, -19.7), (208.7, -20.9),
    (209.3, -21.6), (209.8, -20.4), (210.4, -19.9), (211.0, -21.1), (211.5, -20.6), (212.1, -21.8), (212.6, -20.3),
    (213.2, -21.4), (213.9, -20.7), (214.3, -22.0), (215.0, -20.9), (215.6, -19.6), (216.1, -21.3), (216.7, -20.5),
    (217.2, -21.9), (217.9, -20.2), (218.3, -21.1), (218.9, -19.8), (219.5, -20.8), (220.0, -21.6), (220.6, -20.1),
    (221.1, -21.3), (221.7, -19.9), (222.3, -20.7), (222.9, -21.5), (223.4, -20.3), (224.0, -19.6), (224.5, -21.0),
    (225.1, -20.4), (225.7, -19.4), (226.3, -20.9), (226.8, -20.0), (227.4, -19.2), (228.0, -20.6), (228.5, -19.7),
    (229.1, -21.0), (229.6, -19.9), (230.2, -19.0), (230.8, -20.5), (231.3, -19.6), (231.8, -20.2), (232.4, -18.9),
    (233.0, -19.8), (233.5, -20.6), (234.1, -19.3), (234.7, -18.8), (235.2, -20.0), (235.9, -19.5), (236.4, -20.4),
    (236.9, -19.0), (237.5, -19.7), (238.1, -18.7), (238.6, -20.2), (239.2, -19.4), (239.7, -18.9), (240.3, -19.8),
    (240.9, -20.5), (241.4, -19.1), (241.9, -19.7), (242.6, -18.6), (243.1, -19.4), (243.7, -20.1), (244.2, -19.0),
    (244.8, -19.6), (245.3, -20.3), (245.7, -18.9),
    (129.0, -19.9), (131.7, -20.3), (133.9, -19.4), (136.6, -18.6), (138.2, -20.3), (140.4, -19.5), (142.8, -19.1),
    (144.4, -20.7), (146.0, -18.9), (148.1, -19.9), (150.4, -18.5), (152.1, -19.6), (154.8, -18.9), (156.5, -20.1),
    (158.3, -19.1), (160.5, -18.4), (162.2, -19.5), (163.3, -20.4), (165.4, -19.2), (167.0, -18.6), (168.3, -19.6),
    (170.5, -18.9), (172.6, -20.0), (174.3, -18.8), (176.0, -19.4), (104.0, -19.2), (107.0, -20.8), (109.3, -19.6),
    (113.0, -20.0), (115.9, -19.3), (119.1, -20.2), (122.0, -20.9), (125.1, -19.8), (188.0, -19.2), (191.2, -20.3),
    (194.0, -19.0), (197.2, -19.5), (200.0, -20.6), (202.9, -19.4), (206.2, -20.3), (209.0, -19.5), (212.4, -20.9),
    (215.3, -21.5), (218.6, -20.5), (221.4, -20.8), (224.7, -20.0), (227.7, -20.3), (231.0, -19.3), (234.4, -20.3),
    (237.2, -18.9), (240.0, -20.1), (243.4, -19.0), (22.0, -22.4), (26.0, -23.8), (30.2, -22.1), (34.0, -23.6),
    (38.3, -22.6), (42.0, -21.8), (46.0, -21.6), (50.3, -22.6), (54.7, -21.3), (58.5, -21.0), (62.3, -21.7),
    (66.0, -20.5), (71.9, -20.0), (75.0, -19.3), (79.8, -19.9), (87.2, -21.8), (90.4, -22.3), (94.0, -22.2),
    (97.4, -23.1),
]

#%% Plotting helpers

W, H = 704, 1235
cmap = ListedColormap(plt.cm.inferno(np.linspace(0.0, 0.8, 256)))
norm = Normalize(20, 32)
ORANGE = '#ffa500'
GREY = '#c8c8c8'


def rect(l, t, r, b):
    # pixel box -> figure fraction
    return [l / W, 1 - b / H, (r - l) / W, (b - t) / H]


def style(ax):
    ax.set_xlim(12.3, 245.9)
    ax.set_xticks(hour_ticks)
    ax.xaxis.set_minor_locator(MultipleLocator(15))
    ax.tick_params(which='both', direction='in', top=True, right=True, width=1, colors='black')
    ax.tick_params(which='major', length=7)
    ax.tick_params(which='minor', length=3.5)
    for s in ax.spines.values():
        s.set_linewidth(1.3)


def stack(groups):
    t, v, c = [], [], []
    for eia, pts in groups:
        for a, b in pts:
            t.append(a)
            v.append(b)
            c.append(eia)
    return np.array(t), np.array(v), np.array(c)


def draw_panel(box_main, box_sfmr, groups, iwrap, ylim, yticks, sar_label, leg_ms, title, title_y,
               ylab_x, sfmr_lab_x, leg_anchor, sleg_anchor, time_y, note_y, note_x, cbar_box):
    ax = fig.add_axes(rect(*box_main))
    style(ax)
    t, v, c = stack(groups)
    ax.scatter(t, v, s=9, facecolors='none', edgecolors=cmap(norm(c)), linewidths=0.8, zorder=2)
    iw = np.array(iwrap)
    ax.scatter(iw[:, 0], iw[:, 1], s=8, marker='+', color='#00ffff', linewidths=0.9, zorder=3)
    ax.axvline(overpass_t, color=GREY, ls=(0, (5, 4)), lw=1, zorder=4)
    ax.set_ylim(*ylim)
    ax.set_yticks(yticks)
    ax.yaxis.set_minor_locator(MultipleLocator(0.5))
    ax.tick_params(axis='y', labelsize=9.5, pad=3)
    ax.tick_params(axis='x', labelbottom=False)
    # lowest label sits just above the panel join
    ax.get_yticklabels()[0].set_verticalalignment('bottom')

    handles = [Line2D([], [], marker='o', ls='none', mfc='none', mec='#1a0c3a', ms=leg_ms[0], mew=0.9),
               Line2D([], [], marker='+', ls='none', color='#00ffff', ms=leg_ms[1], mew=1),
               Line2D([], [], color=GREY, ls=(0, (5, 4)), lw=1)]
    leg = ax.legend(handles, [sar_label, 'IWRAP', 'Overpass time'], loc='upper left',
                    bbox_to_anchor=leg_anchor, fontsize=9.5, frameon=True, fancybox=False,
                    edgecolor='black', framealpha=1, borderpad=0.25, labelspacing=0.0,
                    handlelength=3.8, handletextpad=1.25, borderaxespad=0)
    leg.get_frame().set_linewidth(1)

    fig.text(ylab_x / W, 1 - (box_main[1] + box_main[3]) / 2 / H, 'NRCS (dB)', rotation=90,
             ha='center', va='center', fontsize=9.5)
    fig.text(360.5 / W, 1 - title_y / H, title, ha='center', va='center', fontsize=19.5)

    # SFMR panel
    bx = fig.add_axes(rect(*box_sfmr))
    style(bx)
    sp = np.array(sfmr_pts)
    bx.scatter(sp[:, 0], sp[:, 1], s=3, color='black', linewidths=0, zorder=2)
    bx.plot(gdas_t1, gdas_ws1, color='red', lw=1, zorder=3)
    bx.plot(gdas_t2, gdas_ws2, color='red', lw=1, zorder=3)
    bx.scatter(drop_t, drop_ws, s=38, marker='s', color=ORANGE, linewidths=0, zorder=4)
    bx.axvline(overpass_t, color=GREY, ls=(0, (5, 4)), lw=1, zorder=5)
    bx.set_ylim(18.8, 36.1)
    bx.set_yticks([20, 25, 30, 35])
    bx.yaxis.set_minor_locator(MultipleLocator(1))
    bx.tick_params(axis='y', labelsize=8.5, pad=3)
    bx.tick_params(axis='y', which='major', length=6)
    bx.tick_params(axis='y', which='minor', length=3)
    bx.set_xticklabels(hour_labels)
    bx.tick_params(axis='x', labelsize=16.5, pad=6)
    sh = [Line2D([], [], color='red', lw=1),
          Line2D([], [], marker='s', ls='none', color=ORANGE, ms=6)]
    sleg = bx.legend(sh, ['GDAS', 'Dropsonde'], loc='upper left', bbox_to_anchor=sleg_anchor,
                     fontsize=5.5, frameon=True, fancybox=False, edgecolor='black', framealpha=1,
                     borderpad=0.3, labelspacing=0.2, handlelength=3.0, handletextpad=0.5,
                     borderaxespad=0)
    sleg.get_frame().set_linewidth(1)
    fig.text(sfmr_lab_x / W, 1 - (box_sfmr[1] + box_sfmr[3]) / 2 / H, 'SFMR WS (m/s)', rotation=90,
             ha='center', va='center', fontsize=9.5)

    fig.text(360.5 / W, 1 - time_y / H, 'Time', ha='center', va='center', fontsize=16.5)
    fig.text(note_x / W, 1 - note_y / H, '1km alongtrack grid cells; 1\u00b0 EIA bin size',
             ha='center', va='center', fontsize=16.3)

    cax = fig.add_axes(rect(*cbar_box))
    cb = fig.colorbar(ScalarMappable(norm=norm, cmap=cmap), cax=cax, orientation='horizontal',
                      ticks=list(range(20, 33, 2)))
    cb.outline.set_linewidth(1)
    cax.tick_params(length=0, labelsize=6, pad=3)
    fig.text((cbar_box[0] + cbar_box[2]) / 2 / W, 1 - (cbar_box[1] - 9.5) / H, 'Incidence Angle',
             ha='center', va='center', fontsize=6.5)


#%% Figure

fig = plt.figure(figsize=(W / 100, H / 100), dpi=100)

draw_panel((57, 41, 664, 461.5), (57, 461.5, 664, 528), vv_sar_groups, vv_iwrap,
           (-8, 3), [-8, -6, -4, -2, 0, 2], 'Sentinel\u22121B ALAC', (3.0, 4.0),
           'VV NRCS vs. Time', 20, 22, 21.5,
           ((64 - 57) / 607, (461.5 - 53) / 420.5), ((61 - 57) / 607, (528 - 469) / 66.5),
           573, 596, 358.5, (581, 582, 679, 593))

draw_panel((63, 675, 663, 1089), (63, 1089, 663, 1157), vh_sar_groups, vh_iwrap,
           (-26, -13), [-26, -24, -22, -20, -18, -16, -14], 'Sentinel\u22121B', (5.5, 6.5),
           'VH NRCS vs. Time', 655, 23, 28.5,
           ((71 - 63) / 600, (1089 - 687) / 414), ((68 - 63) / 600, (1157 - 1097) / 68),
           1199, 1222, 362, (582, 1209, 679, 1220))

fig.savefig('out.png', dpi=100)
